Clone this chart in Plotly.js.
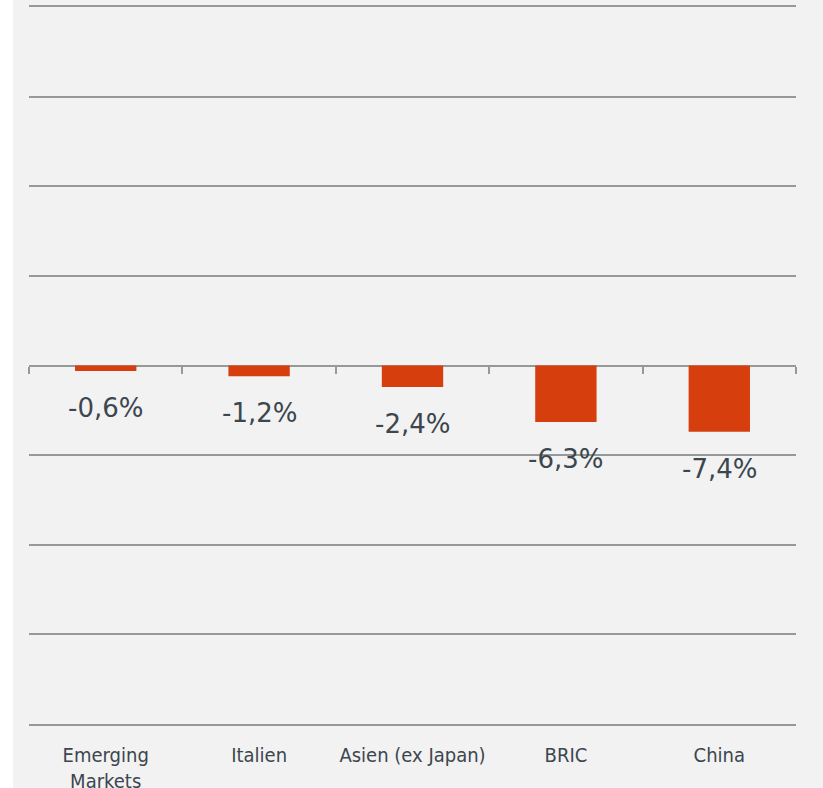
<!DOCTYPE html>
<html>
<head>
<meta charset="utf-8">
<script src="https://cdn.plot.ly/plotly-3.0.1.min.js"></script>
<style>
html,body{margin:0;padding:0;background:#ffffff;}
#chart{position:absolute;left:13px;top:0;width:810px;height:788px;}
</style>
</head>
<body>
<div id="chart"></div>
<script>
const categories = ["Emerging<br>Markets", "Italien", "Asien (ex Japan)", "BRIC", "China"];
const values = [-0.6, -1.2, -2.4, -6.3, -7.4];
const valueLabels = ["-0,6%", "-1,2%", "-2,4%", "-6,3%", "-7,4%"];

const gridColor = "#959997";
const textColor = "#3c464e";

const annotations = categories.map((c, i) => ({
  x: c, y: values[i], xref: "x", yref: "y",
  text: valueLabels[i], showarrow: false,
  yanchor: "middle", yshift: -37,
  font: {family: "DejaVu Sans", size: 26, color: textColor}
}));

const trace = {
  type: "bar",
  x: categories,
  y: values,
  marker: {color: "#d73e0e"},
  hoverinfo: "skip"
};

// invisible helper so the zero-line tick axis is drawn
const tickHelper = {
  type: "scatter", mode: "none",
  x: categories.map((c, i) => i),
  y: values,
  xaxis: "x2", yaxis: "y",
  hoverinfo: "skip", showlegend: false
};

const layout = {
  width: 810, height: 788,
  margin: {l: 16, r: 27, t: 7, b: 64},
  paper_bgcolor: "#f2f2f2",
  plot_bgcolor: "#f2f2f2",
  bargap: 0.6,
  showlegend: false,
  xaxis: {
    type: "category",
    showgrid: false, zeroline: false,
    showline: true, mirror: true, linecolor: gridColor, linewidth: 2,
    ticks: "",
    tickfont: {family: "DejaVu Sans Condensed, Liberation Sans Narrow, sans-serif", size: 20, color: textColor},
    ticklabelstandoff: 12
  },
  xaxis2: {
    overlaying: "x", anchor: "free", position: 0.5, side: "bottom",
    range: [-0.5, 4.5], type: "linear",
    tickmode: "array", tickvals: [-0.5, 0.5, 1.5, 2.5, 3.5, 4.5],
    showticklabels: false, showgrid: false, zeroline: false,
    showline: false,
    ticks: "outside", ticklen: 7, tickwidth: 2, tickcolor: gridColor
  },
  yaxis: {
    range: [-40, 40], dtick: 10, tick0: 0,
    showticklabels: false, ticks: "",
    showgrid: true, gridcolor: gridColor, gridwidth: 2,
    zeroline: true, zerolinecolor: gridColor, zerolinewidth: 2,
    showline: false
  },
  annotations: annotations
};

Plotly.newPlot("chart", [trace, tickHelper], layout, {displayModeBar: false, staticPlot: true});
</script>
</body>
</html>
